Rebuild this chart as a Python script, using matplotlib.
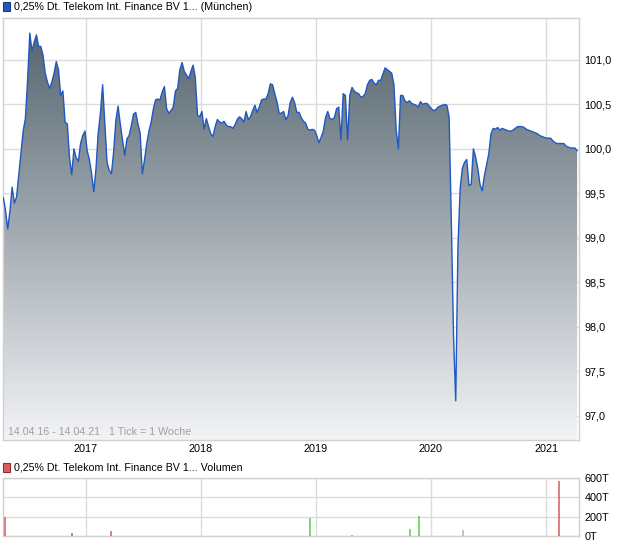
import numpy as np
import pandas as pd
import matplotlib
matplotlib.use('Agg')
import matplotlib.pyplot as plt
import matplotlib.dates as mdates
from matplotlib.patches import Rectangle

plt.rcParams['font.family'] = ['Liberation Sans', 'DejaVu Sans']

# ---------------- data ----------------
start_date = '2016-04-15'
prices = [
    99.45, 99.31, 99.10, 99.30, 99.57, 99.39, 99.46, 99.71, 99.96, 100.20,
    100.34, 100.77, 101.30, 101.10, 101.20, 101.28, 101.15, 101.15, 101.05, 100.85,
    100.75, 100.68, 100.75, 100.85, 100.98, 100.89, 100.60, 100.65, 100.30, 100.28,
    99.90, 99.71, 100.00, 99.90, 99.86, 100.06, 100.15, 100.20, 99.98, 99.88,
    99.72, 99.52, 99.78, 100.18, 100.40, 100.72, 100.28, 99.85, 99.76, 99.72,
    99.97, 100.32, 100.48, 100.28, 100.10, 99.93, 100.11, 100.15, 100.26, 100.39,
    100.41, 100.28, 100.18, 99.72, 99.88, 100.06, 100.20, 100.30, 100.45, 100.55,
    100.56, 100.55, 100.64, 100.70, 100.45, 100.40, 100.43, 100.47, 100.65, 100.68,
    100.89, 100.97, 100.87, 100.83, 100.79, 100.87, 100.94, 100.80, 100.38, 100.36,
    100.42, 100.22, 100.34, 100.25, 100.17, 100.14, 100.25, 100.33, 100.30, 100.29,
    100.31, 100.27, 100.25, 100.25, 100.23, 100.27, 100.33, 100.36, 100.34, 100.30,
    100.42, 100.33, 100.36, 100.43, 100.49, 100.41, 100.47, 100.55, 100.56, 100.56,
    100.62, 100.73, 100.72, 100.62, 100.53, 100.40, 100.40, 100.42, 100.33, 100.37,
    100.52, 100.58, 100.52, 100.41, 100.41, 100.35, 100.31, 100.29, 100.22, 100.21,
    100.22, 100.21, 100.15, 100.07, 100.13, 100.20, 100.35, 100.42, 100.34, 100.33,
    100.35, 100.45, 100.47, 100.10, 100.62, 100.60, 100.10, 100.60, 100.69, 100.65,
    100.63, 100.62, 100.58, 100.59, 100.62, 100.72, 100.77, 100.78, 100.74, 100.72,
    100.77, 100.77, 100.84, 100.91, 100.89, 100.87, 100.85, 100.72, 100.22, 100.00,
    100.60, 100.60, 100.54, 100.52, 100.54, 100.51, 100.50, 100.49, 100.47, 100.53,
    100.50, 100.51, 100.51, 100.48, 100.45, 100.43, 100.44, 100.47, 100.48, 100.49,
    100.50, 100.49, 100.36, 99.20, 97.90, 97.17, 98.90, 99.55, 99.78, 99.85,
    99.88, 99.59, 99.60, 100.00, 99.91, 99.78, 99.60, 99.53, 99.70, 99.82,
    99.95, 100.17, 100.23, 100.22, 100.24, 100.21, 100.23, 100.22, 100.21, 100.20,
    100.20, 100.21, 100.23, 100.25, 100.25, 100.25, 100.24, 100.22, 100.21, 100.20,
    100.19, 100.18, 100.17, 100.15, 100.14, 100.13, 100.12, 100.12, 100.12, 100.09,
    100.07, 100.06, 100.06, 100.06, 100.06, 100.03, 100.02, 100.01, 100.01, 100.01,
    99.98,
]

vol_dates = ['2016-04-21', '2016-11-18', '2017-03-24', '2018-12-14', '2019-04-26',
             '2019-10-28', '2019-11-25', '2020-04-13', '2021-02-12']
vol_values = [200, 31, 52, 190, 10, 72, 207, 62, 569]   # in T
vol_colors = ['#d85a5a', '#d85a5a', '#d85a5a', '#4fd14f', '#4fd14f',
              '#4fd14f', '#4fd14f', '#b4b4b4', '#d85a5a']

year_ticks = ['2017-01-01', '2018-01-01', '2019-01-01', '2020-01-01', '2021-01-01']
year_labels = ['2017', '2018', '2019', '2020', '2021']
price_ticks = [97.0, 97.5, 98.0, 98.5, 99.0, 99.5, 100.0, 100.5, 101.0]
vol_ticks = [0, 200, 400, 600]
vol_tick_labels = ['0T', '200T', '400T', '600T']

title_main = '0,25% Dt. Telekom Int. Finance BV 1... (München)'
title_vol = '0,25% Dt. Telekom Int. Finance BV 1... Volumen'
range_text = '14.04.16 - 14.04.21   1 Tick = 1 Woche'

# ---------------- figure ----------------
W, H = 620, 546
fig = plt.figure(figsize=(W / 100, H / 100), dpi=100)
fig.patch.set_facecolor('white')

def fx(px):
    return px / W

def fy(py):
    return 1 - py / H

ax = fig.add_axes([fx(3), fy(440), fx(579) - fx(3), fy(18) - fy(440)])
axv = fig.add_axes([fx(3), fy(536), fx(579) - fx(3), fy(478) - fy(536)])

dates = pd.date_range(start_date, periods=len(prices), freq='7D')
xd = mdates.date2num(dates)
yv = np.array(prices)

xmin = mdates.date2num(pd.Timestamp('2016-04-14'))
xmax = mdates.date2num(pd.Timestamp('2021-04-15'))
ymin, ymax = 96.73, 101.47

grid_c = '#dcdcdc'
spine_c = '#d0d0d0'

# gradient fill clipped to area under line
poly = ax.fill_between(xd, yv, ymin, facecolor='none', edgecolor='none')
grad = np.linspace(0, 1, 256).reshape(-1, 1)
top_c = np.array([0.32, 0.38, 0.42])
bot_c = np.array([0.95, 0.955, 0.965])
img = top_c[None, None, :] * (1 - grad[:, :, None]) + bot_c[None, None, :] * grad[:, :, None]
im = ax.imshow(img, extent=[xmin, xmax, ymin, ymax], aspect='auto', origin='upper', zorder=1)
im.set_clip_path(poly.get_paths()[0], transform=ax.transData)

ax.plot(xd, yv, color='#1f57c3', lw=1.0, zorder=3)

ax.set_xlim(xmin, xmax)
ax.set_ylim(ymin, ymax)
yt = mdates.date2num(pd.to_datetime(year_ticks))
ax.set_xticks(yt)
ax.set_xticklabels(year_labels)
ax.set_yticks(price_ticks)
ax.set_yticklabels([f'{v:.1f}'.replace('.', ',') for v in price_ticks])
ax.yaxis.tick_right()
ax.tick_params(axis='both', length=0, labelsize=7.8, colors='#000000', pad=4)
ax.tick_params(axis='x', pad=3)
ax.grid(True, color=grid_c, lw=1, zorder=0)
ax.set_axisbelow(True)
for s in ax.spines.values():
    s.set_color(spine_c)
    s.set_linewidth(1)

ax.text(0.009, 0.006, range_text, transform=ax.transAxes, fontsize=7.7,
        color='#a0a0a0', ha='left', va='bottom', zorder=5)

# volume panel
vd = mdates.date2num(pd.to_datetime(vol_dates))
axv.vlines(vd, 0, vol_values, colors=vol_colors, lw=1.1, zorder=3)
axv.set_xlim(xmin, xmax)
axv.set_ylim(0, 600)
axv.set_xticks(yt)
axv.set_xticklabels([])
axv.set_yticks(vol_ticks)
axv.set_yticklabels(vol_tick_labels)
axv.yaxis.tick_right()
axv.tick_params(axis='both', length=0, labelsize=7.8, colors='#000000', pad=4)
axv.grid(True, color=grid_c, lw=1, zorder=0)
axv.set_axisbelow(True)
for s in axv.spines.values():
    s.set_color(spine_c)
    s.set_linewidth(1)

# legends / titles
fig.patches.append(Rectangle((fx(3), fy(11)), fx(7), fy(2) - fy(11), transform=fig.transFigure,
                             facecolor='#2459b8', edgecolor='#1a3f80', lw=0.8))
fig.text(fx(14.5), fy(6.5), title_main, fontsize=7.7, va='center', ha='left', color='#000000')
fig.patches.append(Rectangle((fx(3), fy(472)), fx(7), fy(463) - fy(472), transform=fig.transFigure,
                             facecolor='#d9605a', edgecolor='#8a3030', lw=0.8))
fig.text(fx(14.5), fy(467.5), title_vol, fontsize=7.7, va='center', ha='left', color='#000000')

fig.savefig('out.png', dpi=100)
